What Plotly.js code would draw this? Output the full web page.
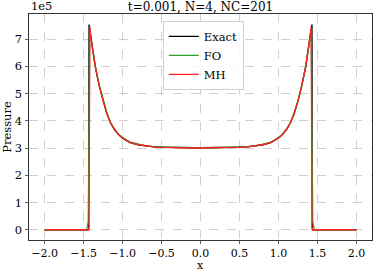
<!DOCTYPE html>
<html>
<head>
<meta charset="utf-8">
<script src="https://cdn.plot.ly/plotly-3.0.1.min.js"></script>
<style>html,body{margin:0;padding:0;background:#fff;}#chart{width:374px;height:271px;}</style>
</head>
<body>
<div id="chart"></div>
<script>
// x positions and pressure (in units of 1e5)
const exactX = [-2.0, -1.435, -1.43, -1.40, -1.35, -1.30, -1.25, -1.20, -1.15, -1.10, -1.05, -1.00, -0.95, -0.90, -0.80, -0.70, -0.60, -0.50, -0.40, -0.30, -0.20, -0.10, 0.00, 0.10, 0.20, 0.30, 0.40, 0.50, 0.60, 0.70, 0.80, 0.90, 0.95, 1.00, 1.05, 1.10, 1.15, 1.20, 1.25, 1.30, 1.35, 1.40, 1.43, 1.435, 2.0];
const exactP = [0, 0, 7.53, 6.95, 6.0, 5.3, 4.72, 4.25, 3.9, 3.66, 3.49, 3.36, 3.27, 3.2, 3.12, 3.07, 3.04, 3.03, 3.02, 3.02, 3.01, 3.01, 3.01, 3.01, 3.01, 3.02, 3.02, 3.03, 3.04, 3.07, 3.12, 3.2, 3.27, 3.36, 3.49, 3.66, 3.9, 4.25, 4.72, 5.3, 6.0, 6.95, 7.53, 0, 0];

const foX = [-2.0, -1.46, -1.44, -1.42, -1.40, -1.35, -1.30, -1.25, -1.20, -1.15, -1.10, -1.05, -1.00, -0.95, -0.90, -0.80, -0.70, -0.60, -0.50, -0.40, -0.30, -0.20, -0.10, 0.00, 0.10, 0.20, 0.30, 0.40, 0.50, 0.60, 0.70, 0.80, 0.90, 0.95, 1.00, 1.05, 1.10, 1.15, 1.20, 1.25, 1.30, 1.35, 1.40, 1.42, 1.44, 1.46, 2.0];
const foP = [0, 0, 0.3, 7.3, 6.92, 6.0, 5.3, 4.73, 4.27, 3.92, 3.68, 3.5, 3.38, 3.29, 3.22, 3.14, 3.08, 3.05, 3.03, 3.02, 3.02, 3.01, 3.01, 3.01, 3.01, 3.01, 3.02, 3.02, 3.03, 3.05, 3.08, 3.14, 3.22, 3.29, 3.38, 3.5, 3.68, 3.92, 4.27, 4.73, 5.3, 6.0, 6.92, 7.3, 0.3, 0, 0];

const mhX = [-2.0, -1.44, -1.43, -1.42, -1.40, -1.35, -1.30, -1.25, -1.20, -1.15, -1.10, -1.05, -1.00, -0.95, -0.90, -0.80, -0.70, -0.60, -0.50, -0.40, -0.30, -0.20, -0.10, 0.00, 0.10, 0.20, 0.30, 0.40, 0.50, 0.60, 0.70, 0.80, 0.90, 0.95, 1.00, 1.05, 1.10, 1.15, 1.20, 1.25, 1.30, 1.35, 1.40, 1.42, 1.43, 1.44, 2.0];
const mhP = [0, 0, 0.1, 7.45, 6.93, 6.0, 5.3, 4.72, 4.26, 3.91, 3.67, 3.49, 3.37, 3.27, 3.2, 3.12, 3.07, 3.04, 3.02, 3.01, 3.01, 3.0, 3.0, 3.0, 3.0, 3.0, 3.01, 3.01, 3.02, 3.04, 3.07, 3.12, 3.2, 3.27, 3.37, 3.49, 3.67, 3.91, 4.26, 4.72, 5.3, 6.0, 6.93, 7.45, 0.1, 0, 0];

const xTicks = [-2.0, -1.5, -1.0, -0.5, 0.0, 0.5, 1.0, 1.5, 2.0];
const xTickText = ['\u22122.0', '\u22121.5', '\u22121.0', '\u22120.5', '0.0', '0.5', '1.0', '1.5', '2.0'];
const yTicks = [0, 1, 2, 3, 4, 5, 6, 7];
const yTickText = ['0', '1', '2', '3', '4', '5', '6', '7'];

const FONT = 'DejaVu Serif';
const FS = 11.5;
const traces = [
  {x: exactX, y: exactP, name: 'Exact', mode: 'lines', line: {color: '#000000', width: 1.3}},
  {x: foX, y: foP, name: 'FO', mode: 'lines', line: {color: '#2ca02c', width: 1.3}},
  {x: mhX, y: mhP, name: 'MH', mode: 'lines', line: {color: '#ff2020', width: 1.3}}
];
const axisCommon = {
  showline: true, mirror: true, linecolor: '#333', linewidth: 1,
  ticks: 'outside', ticklen: 3.5, tickcolor: '#333', tickwidth: 0.8,
  showgrid: true, gridcolor: '#c4c4c4', griddash: 'dash', gridwidth: 0.8,
  zeroline: false, tickfont: {family: FONT, size: FS, color: '#000'}
};
const layout = {
  width: 374, height: 271,
  margin: {l: 29, r: 2, t: 14, b: 31},
  paper_bgcolor: '#fff', plot_bgcolor: '#fff',
  font: {family: FONT, color: '#000'},
  title: {text: 't=0.001, N=4, NC=201', font: {family: FONT, size: 12, color: '#000'},
          xref: 'paper', x: 0.5, xanchor: 'center', yref: 'container', y: 0.976, yanchor: 'middle'},
  xaxis: Object.assign({}, axisCommon, {range: [-2.2, 2.2], tickvals: xTicks, ticktext: xTickText,
          ticklen: 3, tickfont: {family: FONT, size: 11, color: '#000'}, automargin: false}),
  yaxis: Object.assign({}, axisCommon, {range: [-0.377, 7.92], tickvals: yTicks, ticktext: yTickText,
          automargin: false, title: {text: 'Pressure', font: {family: FONT, size: FS}, standoff: 4}}),
  legend: {x: 0.39, y: 0.97, xanchor: 'left', yanchor: 'top', bgcolor: 'rgba(255,255,255,0.85)',
           bordercolor: '#d0d0d0', borderwidth: 1, font: {family: FONT, size: FS}, tracegroupgap: 0},
  annotations: [
    {text: '1e5', xref: 'paper', yref: 'paper', x: 0, y: 1, xanchor: 'left', yanchor: 'bottom',
     showarrow: false, yshift: -1, font: {family: FONT, size: FS, color: '#000'}},
    {text: 'x', xref: 'paper', yref: 'paper', x: 0.5, y: 0, xanchor: 'center', yanchor: 'bottom',
     showarrow: false, yshift: -33, borderpad: 0, font: {family: FONT, size: 11, color: '#000'}}
  ],
  showlegend: true
};
Plotly.newPlot('chart', traces, layout, {staticPlot: true, displayModeBar: false});
</script>
</body>
</html>
